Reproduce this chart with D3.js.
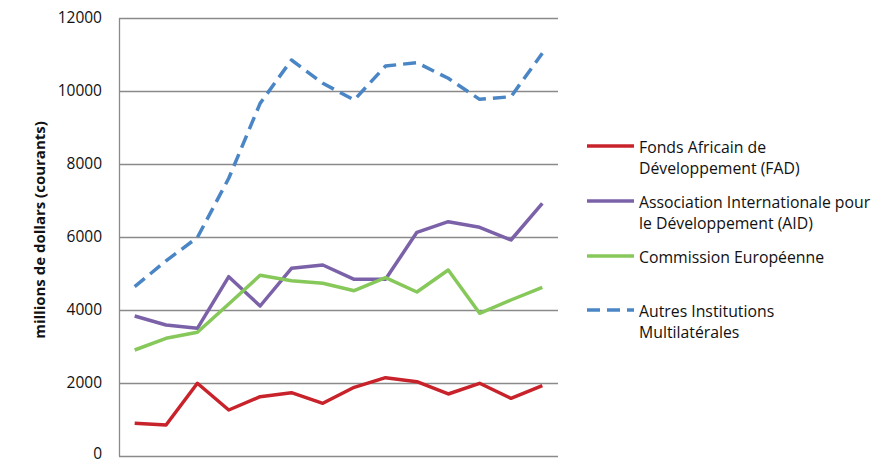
<!DOCTYPE html>
<html><head><meta charset="utf-8">
<script src="https://cdn.jsdelivr.net/npm/d3@7"></script>
<style>body{margin:0;background:#fff}svg{display:block}text{font-family:"Open Sans",sans-serif}</style>
</head><body><svg id="c" width="892" height="463"></svg>
<script>
const categories = ["1","2","3","4","5","6","7","8","9","10","11","12","13","14"];
const fad = [895, 848, 1990, 1259, 1623, 1732, 1442, 1880, 2143, 2033, 1697, 1990, 1579, 1924];
const aid = [3831, 3585, 3494, 4907, 4105, 5137, 5227, 4836, 4836, 6122, 6412, 6258, 5911, 6916];
const ce  = [2901, 3221, 3385, 4160, 4945, 4798, 4726, 4524, 4880, 4488, 5090, 3905, 4269, 4617];
const autres = [4633, 5340, 5980, 7600, 9650, 10837, 10200, 9742, 10673, 10764, 10336, 9760, 9833, 11021];
const yTicks = [0, 2000, 4000, 6000, 8000, 10000, 12000];
const seriesNames = [["Fonds Africain de","Développement (FAD)"],["Association Internationale pour","le Développement (AID)"],["Commission Européenne"],["Autres Institutions","Multilatérales"]];
const seriesData = [fad, aid, ce, autres];
const colors = ["#C8232B","#7B62A8","#86C85A","#4A86C5"];
const dashes = [null,null,null,"13,7"];

const svg = d3.select("#c");
const x = d3.scalePoint().domain(categories).range([119, 558]).padding(0.5);
const y = d3.scaleLinear().domain([0, 12000]).range([456, 17.5]);

// gridlines
svg.append("g").selectAll("line").data(yTicks).join("line")
  .attr("x1", 119).attr("x2", 558)
  .attr("y1", d => Math.round(y(d)) + 0.5).attr("y2", d => Math.round(y(d)) + 0.5)
  .attr("stroke", "#8a8a8a").attr("stroke-width", 1.3);
// y axis
const ya = svg.append("g").attr("transform", "translate(119,0)")
  .call(d3.axisLeft(y).tickValues(yTicks).tickSize(0).tickPadding(17).tickFormat(d3.format("d")));
ya.select(".domain").attr("stroke", "#8a8a8a").attr("stroke-width", 1.3);
ya.selectAll("text").attr("font-size", 15.5).attr("fill", "#111").attr("font-family", '"Open Sans",sans-serif')
  .attr("dy", d => d === 0 ? "0.13em" : "0.3em");

svg.append("text").attr("transform", "translate(45,230) rotate(-90)")
  .attr("text-anchor", "middle").attr("font-size", 15).attr("font-weight", "bold").attr("fill", "#111")
  .text("millions de dollars (courants)");

const line = d3.line().x((d, i) => x(categories[i])).y(d => y(d));
seriesData.forEach((s, k) => {
  svg.append("path").datum(s).attr("d", line).attr("fill", "none")
    .attr("stroke", colors[k]).attr("stroke-width", 3.5).attr("stroke-linejoin", "round")
    .attr("stroke-dasharray", dashes[k]);
});

// legend
const legY = [146, 201, 256, 310];
seriesNames.forEach((names, k) => {
  const g = svg.append("g");
  g.append("line").attr("x1", 587).attr("x2", 634).attr("y1", legY[k]).attr("y2", legY[k])
    .attr("stroke", colors[k]).attr("stroke-width", 3.5).attr("stroke-dasharray", dashes[k]);
  names.forEach((t, j) => {
    g.append("text").attr("x", 639).attr("y", legY[k] + 6.5 + j * 21)
      .attr("font-size", 15.8).attr("fill", "#111").text(t);
  });
});
</script></body></html>
